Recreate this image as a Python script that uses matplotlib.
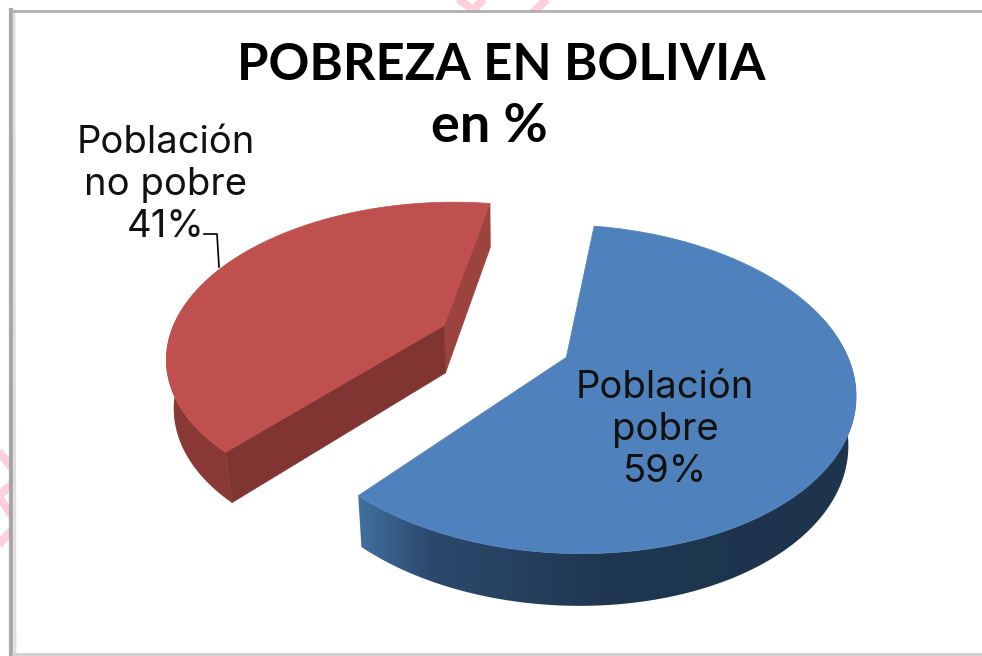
import numpy as np
import matplotlib
matplotlib.use("Agg")
import matplotlib.pyplot as plt
from matplotlib.colors import LinearSegmentedColormap
from matplotlib.patches import Polygon

categories = ["Población pobre", "Población no pobre"]
label_lines = ["Población\npobre", "Población\nno pobre"]
values = [59, 41]
title_lines = ["POBREZA EN BOLIVIA", "en %"]

# pie geometry, in image pixels
cx, cy = 504, 341
rx, ry = 276, 152
persp = 0.19
depth = 48
explode = 0.245
start = 9.2  # degrees clockwise from top


def project(u, v, drop=0.0):
    s = 1 / (1 + persp * v)
    x = cx + rx * u * s * (1 - 0.022 * drop)
    y = cy - ry * v * s + drop * depth * (1 - 0.08 * v)
    return x, y


def offset(a0, a1):
    mid = np.radians((a0 + a1) / 2)
    return explode * np.sin(mid), explode * np.cos(mid)


def top_face(ax, a0, a1, color, n=200):
    ou, ov = offset(a0, a1)
    th = np.radians(np.linspace(a0, a1, n))
    xr, yr = project(ou + np.sin(th), ov + np.cos(th))
    xa, ya = project(ou, ov)
    ax.fill(np.r_[xa, xr], np.r_[ya, yr], color=color, lw=0.5, zorder=2)


def cut_face(ax, a0, a1, a, color):
    ou, ov = offset(a0, a1)
    r = np.radians(a)
    p0 = project(ou, ov)
    p1 = project(ou + np.sin(r), ov + np.cos(r))
    p2 = project(ou + np.sin(r), ov + np.cos(r), 1)
    p3 = project(ou, ov, 1)
    ax.fill([p0[0], p1[0], p2[0], p3[0]], [p0[1], p1[1], p2[1], p3[1]], color=color, lw=0.5, zorder=2)


def outer_wall(ax, a0, a1, w0, w1, cmap, n=200):
    # wall outline filled with a left to right gradient
    ou, ov = offset(a0, a1)
    th = np.radians(np.linspace(w0, w1, n))
    xt, yt = project(ou + np.sin(th), ov + np.cos(th))
    xb, yb = project(ou + np.sin(th), ov + np.cos(th), 1)
    xs = np.r_[xt, xb[::-1]]
    ys = np.r_[yt, yb[::-1]]
    grad = np.linspace(0, 1, 256).reshape(1, -1)
    im = ax.imshow(grad, cmap=cmap, aspect="auto", zorder=2, interpolation="bilinear",
                   extent=[xs.min(), xs.max(), ys.max(), ys.min()])
    im.set_clip_path(Polygon(np.c_[xs, ys], transform=ax.transData))


fig = plt.figure(figsize=(9.82, 6.56), dpi=100)
ax = fig.add_axes([0, 0, 1, 1])

# pink background marks showing outside the frame
pink = "#ffd0dc"
for xs, ys in [([452, 478], [-6, 14]), ([488, 470], [-6, 14]), ([552, 532], [-6, 14]),
               ([-4, 12], [448, 468]), ([-4, 12], [498, 484]), ([-4, 12], [548, 530]), ([0, 12], [498, 516])]:
    ax.plot(xs, ys, color=pink, lw=6, solid_capstyle="butt", zorder=1)

# frame
ax.fill([10, 982, 982, 10], [11, 11, 654, 654], color="white", zorder=1.5)
ax.plot([11, 11], [10, 656], color="#a6a6a6", lw=3, zorder=3)
ax.plot([14, 15], [13, 652], color="#dedede", lw=2, zorder=3)
ax.plot([10, 982], [10.5, 10.5], color="#b0b0b0", lw=2, zorder=3)
ax.plot([13, 982], [654, 654], color="#cfcfcf", lw=2, zorder=3)

fracs = np.array(values) / sum(values) * 360
blue_a0, blue_a1 = start, start + fracs[0]
red_a0, red_a1 = blue_a1, blue_a1 + fracs[1]

# red slice
red_wall = LinearSegmentedColormap.from_list("r", ["#8a3835", "#8c3a37", "#84352f"])
outer_wall(ax, red_a0, red_a1, red_a0, red_a1 - 60, red_wall)
cut_face(ax, red_a0, red_a1, red_a1, "#9c423f")
cut_face(ax, red_a0, red_a1, red_a0, "#803533")
top_face(ax, red_a0, red_a1, "#c0504d")

# blue slice
blue_wall = LinearSegmentedColormap.from_list(
    "b", [(0, "#41709f"), (0.14, "#2c4a6e"), (0.5, "#1f3650"), (1, "#1e344d")])
outer_wall(ax, blue_a0, blue_a1, blue_a0 + 60, blue_a1, blue_wall)
top_face(ax, blue_a0, blue_a1, "#4f81bd")

ax.text(501, 66, title_lines[0], ha="center", va="center", fontsize=36.5, fontweight="bold",
        family="Lato", color="black", zorder=5)
ax.text(489, 127, title_lines[1], ha="center", va="center", fontsize=39, fontweight="bold",
        family="Lato", color="black", zorder=5)

ax.text(665, 430, f"{label_lines[0]}\n{values[0]}%", ha="center", va="center",
        fontsize=27.5, family="Inter", color="#111111", linespacing=1.2, zorder=5)
ax.text(166, 185, f"{label_lines[1]}\n{values[1]}%", ha="center", va="center",
        fontsize=27.5, family="Inter", color="#111111", linespacing=1.2, zorder=5)

# leader line
ax.plot([204, 217, 219], [234, 234, 267], color="black", lw=1.2, zorder=4)

ax.set_xlim(0, 982)
ax.set_ylim(656, 0)
ax.axis("off")

fig.savefig("out.png", dpi=100, facecolor="white")
